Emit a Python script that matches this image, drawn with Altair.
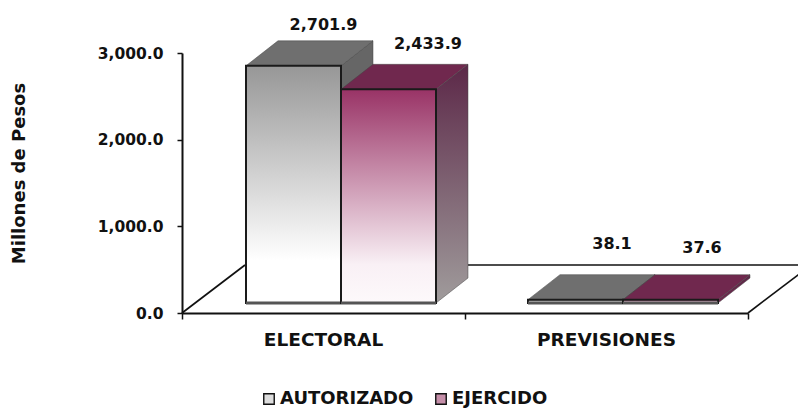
import altair as alt
import pandas as pd

categories = ["ELECTORAL", "PREVISIONES"]
series = ["AUTORIZADO", "EJERCIDO"]
autorizado = [2701.9, 38.1]
ejercido = [2433.9, 37.6]
labels = ["2,701.9", "2,433.9", "38.1", "37.6"]
y_ticks = [0, 1000, 2000, 3000]

PX_X = 283.0
PX_Y = 260 / 3000
FONT = "DejaVu Sans"


def X(px):
    return px / PX_X


def Y(px):
    return px / PX_Y


# projection constants (pixels relative to the plot origin)
FLOOR_DX, FLOOR_DY = 63, 48
BAR_DX, BAR_DY = 32, 25
BASE_DY = 10
BAR_W = 95
FIRST = [64, 346]
HSCALE = 1.013

xs = alt.Scale(domain=[0, 2], nice=False, zero=False)
ys = alt.Scale(domain=[0, 3000], nice=False, zero=False)

x_axis = alt.Axis(values=[0, 1, 2], labels=False, grid=False, domainColor="#111", domainWidth=2,
                  tickColor="#111", tickWidth=1.5, tickSize=6, title=None)
y_axis = alt.Axis(values=y_ticks, format=",.1f", grid=False, domainColor="#111", domainWidth=2,
                  tickColor="#111", tickWidth=1.5, tickSize=5, labelFont=FONT, labelFontWeight="bold",
                  labelFontSize=15.5, labelColor="#111", labelPadding=14,
                  title="Millones de Pesos", titleFont=FONT, titleFontSize=18, titleFontWeight="bold",
                  titleColor="#111", titleX=-154, titleY=120)


def qx(f):
    return alt.X(f, type="quantitative", scale=xs, axis=x_axis)


def qy(f):
    return alt.Y(f, type="quantitative", scale=ys, axis=y_axis)


def grad(stops):
    return alt.Gradient(
        gradient="linear", x1=0, y1=0, x2=0, y2=1,
        stops=[alt.GradientStop(offset=o, color=c) for o, c in stops],
    )


layers = []

# floor outline
back_y = Y(FLOOR_DY)
for pts in ([(0, 0), (X(FLOOR_DX), back_y)],
            [(2, 0), (2 + X(FLOOR_DX), back_y)],
            [(X(FLOOR_DX), back_y), (2 + X(FLOOR_DX), back_y)]):
    layers.append(
        alt.Chart(pd.DataFrame(pts, columns=["x", "y"])).mark_line(color="#111", strokeWidth=1.6, clip=False)
        .encode(x=qx("x"), y=qy("y"))
    )

styles = [
    dict(front=[(0, "#979797"), (0.82, "#ffffff"), (1, "#ffffff")],
         top="#6f6f6f", side=[(0, "#666666"), (1, "#666666")]),
    dict(front=[(0, "#993366"), (0.82, "#f9f0f5"), (1, "#fdf9fb")],
         top="#70284e", side=[(0, "#5c2848"), (1, "#a09c9c")]),
]

for c in range(len(categories)):
    for s, vals in enumerate([autorizado, ejercido]):
        st = styles[s]
        left = FIRST[c] + s * BAR_W
        right = left + BAR_W
        base = Y(BASE_DY)
        top = base + vals[c] * HSCALE
        xl, xr = X(left), X(right)
        dx, dy = X(BAR_DX), Y(BAR_DY)
        side = pd.DataFrame({"x": [xr, xr + dx], "y": [top, top + dy], "y2": [base, base + dy]})
        side_grad = st["side"]
        if c == 1 and s == 1:
            side_grad = [(0, "#5c2848"), (1, "#70284e")]
        layers.append(
            alt.Chart(side).mark_area(orient="vertical", fill=grad(side_grad), clip=False,
                                      stroke="#444444", strokeWidth=0.5)
            .encode(x=qx("x"), y=qy("y"), y2=alt.Y2("y2"))
        )
        roof = pd.DataFrame({"x": [xl, xl + dx], "x2": [xr, xr + dx], "y": [top, top + dy]})
        layers.append(
            alt.Chart(roof).mark_area(orient="horizontal", fill=st["top"], clip=False,
                                      stroke="#444444", strokeWidth=0.5)
            .encode(x=qx("x"), x2=alt.X2("x2"), y=qy("y"))
        )
        face = pd.DataFrame({"x": [xl], "x2": [xr], "y": [top], "y2": [base]})
        layers.append(
            alt.Chart(face).mark_rect(fill=grad(st["front"]), stroke="#1a1a1a", strokeWidth=2, clip=False)
            .encode(x=qx("x"), x2=alt.X2("x2"), y=qy("y"), y2=alt.Y2("y2"))
        )
        shadow = pd.DataFrame({"x": [xl], "x2": [xr], "y": [base]})
        layers.append(
            alt.Chart(shadow).mark_rule(color="#555555", strokeWidth=3, clip=False)
            .encode(x=qx("x"), x2=alt.X2("x2"), y=qy("y"))
        )

# value labels
lab = pd.DataFrame({
    "x": [X(141.5), X(246), X(430), X(520)],
    "y": [autorizado[0] + Y(54), ejercido[0] + Y(58), autorizado[1] + Y(66), ejercido[1] + Y(62)],
    "t": labels,
})
layers.append(
    alt.Chart(lab).mark_text(font=FONT, fontSize=16, fontWeight="bold", color="#111", clip=False)
    .encode(x=qx("x"), y=qy("y"), text="t:N")
)

# category labels
cat = pd.DataFrame({"x": [0.5, 1.5], "y": [-Y(27), -Y(27)], "t": categories})
layers.append(
    alt.Chart(cat).mark_text(font=FONT, fontSize=18.5, fontWeight="bold", color="#111", clip=False)
    .encode(x=qx("x"), y=qy("y"), text="t:N")
)

# legend carrier
leg = pd.DataFrame({"s": series, "x": [0, 0], "y": [0, 0]})
layers.append(
    alt.Chart(leg).mark_square(size=0, clip=False).encode(
        x=qx("x"), y=qy("y"),
        color=alt.Color("s:N", scale=alt.Scale(domain=series, range=["#dddddd", "#c58fa9"]),
                        legend=alt.Legend(
                            orient="none", direction="horizontal", title=None, legendX=78, legendY=337,
                            symbolType="square", symbolSize=110, symbolStrokeColor="#111", symbolStrokeWidth=1.4,
                            symbolOpacity=1, labelFont=FONT, labelFontSize=18, labelFontWeight="bold",
                            labelColor="#111", columnPadding=18, labelOffset=2)),
    )
)

chart = alt.layer(*layers).properties(
    width=566, height=260,
    padding={"left": 174, "top": 45, "right": 50, "bottom": 99},
    autosize=alt.AutoSizeParams(type="none"),
    background="white",
).configure_view(stroke=None)

chart.save("out.html", embed_options={"renderer": "svg", "actions": False})
